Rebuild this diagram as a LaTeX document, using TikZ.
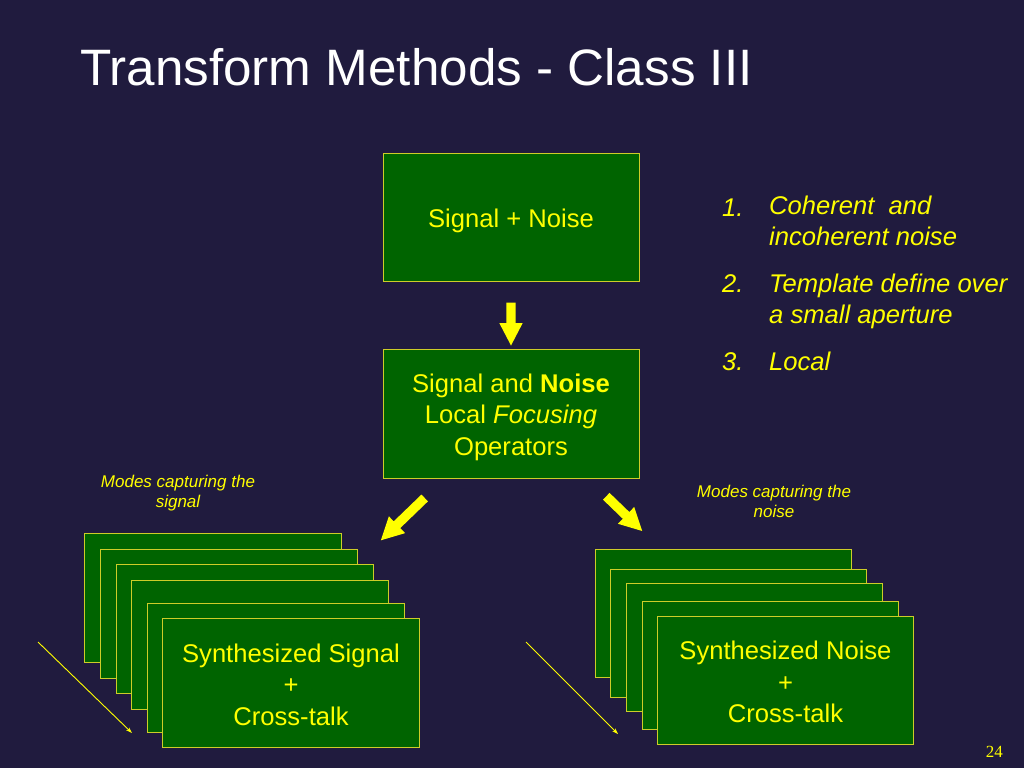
\documentclass[tikz,border=0pt]{standalone}
\usepackage{fontspec}
\setmainfont{Liberation Sans}
\newfontfamily\pagefont{Liberation Serif}
\usepackage{tikz}
\usetikzlibrary{shapes.arrows, arrows.meta, positioning}
\definecolor{slidebg}{RGB}{32,27,62}
\definecolor{boxgreen}{RGB}{0,100,0}
\definecolor{boxline}{RGB}{205,205,40}
\definecolor{textyellow}{RGB}{255,255,0}
\tikzstyle{box} = [draw=boxline, fill=boxgreen, line width=1pt, text=textyellow, align=center, inner sep=0pt, minimum width=256pt, minimum height=128pt, font=\fontsize{25.6}{31.5}\selectfont]
\tikzstyle{card} = [box, anchor=north west]
\tikzstyle{bigarrow} = [single arrow, fill=textyellow, draw=none, inner sep=4.5pt, minimum width=23pt, single arrow head extend=7pt, single arrow tip angle=55]
\tikzstyle{thinarrow} = [draw=textyellow, line width=0.9pt, -{Stealth[length=6pt, width=4pt]}]
\tikzstyle{note} = [text=textyellow, align=center, font=\fontsize{17}{20}\selectfont\itshape]
\tikzstyle{item} = [text=textyellow, align=left, anchor=base west, inner sep=0pt, font=\fontsize{25.6}{31}\selectfont\itshape]

\begin{document}
\begin{tikzpicture}[x=1pt, y=-1pt]
    \useasboundingbox (0,0) rectangle (1024,768);
    \fill[slidebg] (0,0) rectangle (1024,768);

    \node[anchor=base west, inner sep=0pt, text=white, font=\fontsize{51.2}{60}\selectfont] (title) at (80,85) {Transform Methods - Class III};

    % top of the flow
    \node[box] (sn) at (511,217) {\rule{0pt}{26pt}Signal + Noise};
    \node[box, minimum height=129pt] (focus) at (511,413.5) {\rule{0pt}{26pt}Signal and \textbf{Noise}\\Local \textit{Focusing}\\Operators};
    \node[bigarrow, minimum height=43pt, rotate=-90] (down) at (511,319.5) {};
    \node[bigarrow, minimum height=61pt, rotate=224] (toleft) at (406,516) {};
    \node[bigarrow, minimum height=50pt, rotate=-44] (toright) at (621,510.5) {};

    % list on the right
    \node[item] (n1) at (722,216) {1.};
    \node[item] (i1) at (769,245) {Coherent\ \ and\\incoherent noise};
    \node[item] (n2) at (722,292) {2.};
    \node[item] (i2) at (769,323) {Template define over\\a small aperture};
    \node[item] (n3) at (722,370) {3.};
    \node[item] (i3) at (769,370) {Local};

    \node[note, anchor=base] (sigmodes) at (178,507) {Modes capturing the\\signal};
    \node[note, anchor=base] (noimodes) at (774,517) {Modes capturing the\\noise};

    % stack of signal modes
    \foreach \x/\y [count=\i] in {84/533, 100/549, 116/564, 131/580, 147/603}
        \node[card, minimum width=257pt, minimum height=129pt] (sig\i) at (\x,\y) {};
    \node[card, minimum width=257pt, minimum height=129pt] (sig6) at (162,618) {\rule{0pt}{22pt}Synthesized Signal\\+\\Cross-talk};
    \coordinate (sigA) at (38,642);
    \coordinate (sigB) at (132,733);
    \draw[thinarrow] (sigA) -- (sigB);

    % stack of noise modes
    \foreach \x/\y [count=\i] in {595/549, 610/569, 626/583, 642/601}
        \node[card] (noi\i) at (\x,\y) {};
    \node[card] (noi5) at (657,616) {\rule{0pt}{22pt}Synthesized Noise\\+\\Cross-talk};
    \coordinate (noiA) at (526,642);
    \coordinate (noiB) at (618,734);
    \draw[thinarrow] (noiA) -- (noiB);

    \node[anchor=base east, inner sep=0pt, text=textyellow, font=\fontsize{17}{20}\selectfont\pagefont] (page) at (1003,757) {24};
\end{tikzpicture}
\end{document}
